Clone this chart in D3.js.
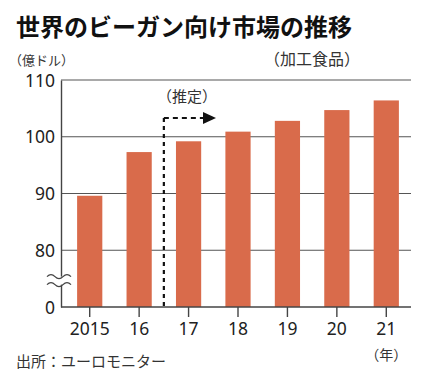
<!DOCTYPE html>
<html><head><meta charset="utf-8">
<script src="https://cdn.jsdelivr.net/npm/d3@7"></script>
<style>
body{margin:0;background:#fff;}
text{font-family:"Noto Sans CJK JP","Noto Sans",sans-serif;}
</style></head>
<body>
<svg id="c" width="439" height="383"></svg>
<script>
const years = ["2015","16","17","18","19","20","21"];
const values = [89.6, 97.3, 99.2, 100.9, 102.8, 104.7, 106.4];
const yTickValues = [70, 80, 90, 100, 110];
const yTickLabels = ["0", "80", "90", "100", "110"];
const title = "世界のビーガン向け市場の推移";
const unitLabel = "（億ドル）";
const subLabel = "（加工食品）";
const estLabel = "（推定）";
const yearLabel = "（年）";
const source = "出所：ユーロモニター";

(function () {
const svg = d3.select("#c");
const pl = 61, pr = 411, pt = 80, pb = 307;
const x = d3.scaleBand().domain(years).range([65, pr]).paddingInner(0.49).paddingOuter(0.245);
const y = d3.scaleLinear().domain([70, 110]).range([pb, pt]);
const barColor = "#d96b4b";

svg.append("text").attr("x", 16).attr("y", 36).attr("font-size", 24).attr("font-weight", "bold")
  .attr("fill", "#111").text(title);
svg.append("text").attr("x", 9).attr("y", 65).attr("font-size", 13).attr("fill", "#333").text(unitLabel);
svg.append("text").attr("x", 264).attr("y", 65).attr("font-size", 16).attr("fill", "#333").text(subLabel);

svg.append("g").selectAll("line").data(yTickValues.filter(v => v > 70)).join("line")
  .attr("x1", pl).attr("x2", pr).attr("y1", d => y(d)).attr("y2", d => y(d))
  .attr("stroke", "#555").attr("stroke-width", 1.2);

svg.append("g").selectAll("rect").data(values).join("rect")
  .attr("x", (d, i) => x(years[i])).attr("width", x.bandwidth())
  .attr("y", d => y(d)).attr("height", d => y(70) - y(d))
  .attr("fill", barColor);

const yAxis = d3.axisLeft(y).tickValues(yTickValues).tickSize(0).tickPadding(6)
  .tickFormat((d, i) => yTickLabels[i]);
const gy = svg.append("g").attr("transform", `translate(${pl},0)`).call(yAxis);
gy.select(".domain").attr("stroke", "#444").attr("stroke-width", 1.4);
gy.selectAll("text").attr("font-size", 17.5).attr("fill", "#222")
  .style("font-family", "'Noto Sans',sans-serif").attr("dy", "0.35em");

const xAxis = d3.axisBottom(x).tickSize(10).tickPadding(6);
const gx = svg.append("g").attr("transform", `translate(0,${pb})`).call(xAxis);
gx.select(".domain").remove();
gx.append("line").attr("x1", pl).attr("x2", pr).attr("stroke", "#444").attr("stroke-width", 1.4);
gx.selectAll(".tick line").attr("stroke", "#444").attr("stroke-width", 1.4);
gx.selectAll(".tick text").attr("font-size", 17.5).attr("fill", "#222")
  .style("font-family", "'Noto Sans',sans-serif");

svg.append("text").attr("x", x("21") + x.bandwidth() / 2).attr("y", 360).attr("text-anchor", "middle")
  .attr("font-size", 14).attr("fill", "#333").text(yearLabel);
svg.append("text").attr("x", 16).attr("y", 367).attr("font-size", 15).attr("fill", "#333").text(source);

const by1 = y(75) - 2, by2 = y(75) + 6;
svg.append("rect").attr("x", pl - 2).attr("y", by1).attr("width", 4).attr("height", by2 - by1).attr("fill", "#fff");
const wave = yy => `M47,${yy} q4,-4 8,0 t8,0 t8,0`;
[by1, by2].forEach(yy => svg.append("path").attr("d", wave(yy)).attr("fill", "none")
  .attr("stroke", "#444").attr("stroke-width", 1.3));

const xe = (x("16") + x.bandwidth() + x("17")) / 2;
svg.append("line").attr("x1", xe).attr("x2", xe).attr("y1", 118).attr("y2", pb)
  .attr("stroke", "#111").attr("stroke-width", 2.2).attr("stroke-dasharray", "4,4");
svg.append("line").attr("x1", xe).attr("x2", 205).attr("y1", 118).attr("y2", 118)
  .attr("stroke", "#111").attr("stroke-width", 2.2).attr("stroke-dasharray", "5,4");
svg.append("path").attr("d", `M203,112 L216,118 L203,124 Z`).attr("fill", "#111");
svg.append("text").attr("x", 157).attr("y", 102).attr("font-size", 15).attr("fill", "#333").text(estLabel);
})();
</script>
</body></html>
